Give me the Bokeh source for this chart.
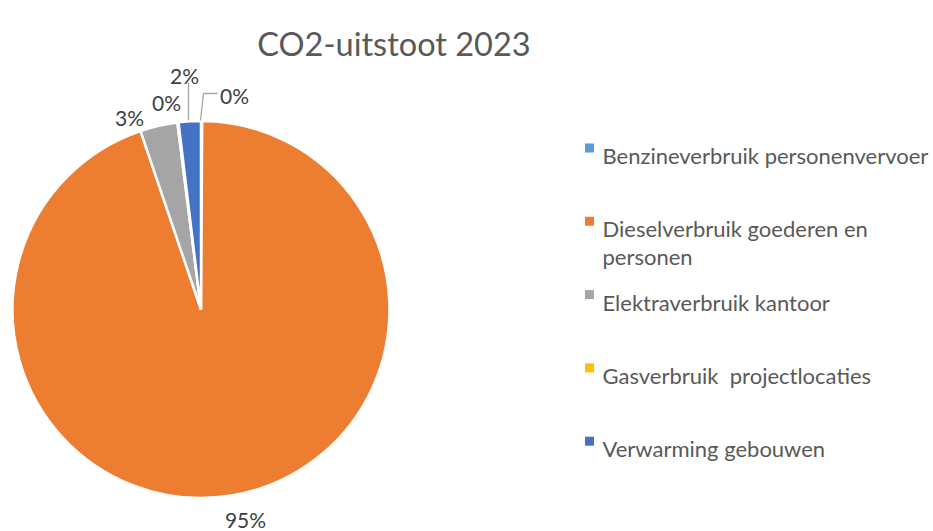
import math
from bokeh.plotting import figure
from bokeh.models import Range1d
from bokeh.core.properties import value
from bokeh.embed import file_html
from bokeh.resources import INLINE

# ---- data ----
categories = [
    "Benzineverbruik personenvervoer",
    "Dieselverbruik goederen en\npersonen",
    "Elektraverbruik kantoor",
    "Gasverbruik\u00a0 projectlocaties",
    "Verwarming gebouwen",
]
shares = [0.1, 94.7, 3.2, 0.1, 1.9]  # percent
colors = ["#5B9BD5", "#ED7D31", "#A5A5A5", "#FFC000", "#4472C4"]
title_text = "CO2-uitstoot 2023"

# ---- layout (window pixel coords) ----
W, H = 933, 531
def wx(X):
    return X
def wy(Y):
    return H - Y

FONT = "Lato"
cx, cy, R = wx(200.5), wy(309), 188.5
# label anchor positions (window coords: center x, baseline y)
label_pos = [(234, 95), (245, 519), (129, 117), (166, 102), (184, 75)]

p = figure(width=W, height=H, x_range=Range1d(0, W), y_range=Range1d(0, H),
           output_backend="svg", toolbar_location=None, min_border=0,
           x_axis_type=None, y_axis_type=None)
p.grid.visible = False
p.outline_line_color = None
p.background_fill_color = "white"
p.border_fill_color = "white"

# wedges, Excel-style: start at 12 o'clock, clockwise
total = sum(shares)
starts, ends = [], []
acc = 0.0
for v in shares:
    a0 = math.pi / 2 - 2 * math.pi * acc / total
    acc += v
    a1 = math.pi / 2 - 2 * math.pi * acc / total
    starts.append(a0)
    ends.append(a1)
p.wedge(x=[cx] * len(shares), y=[cy] * len(shares), radius=R,
        start_angle=starts, end_angle=ends, direction="clock",
        fill_color=colors, line_color="white", line_width=2.5)

# leader lines
p.line(x=[wx(188), wx(188)], y=[wy(120), wy(82)], line_color="#A6A6A6", line_width=1.3)
p.line(x=[wx(200), wx(203), wx(217)], y=[wy(120), wy(93), wy(93)], line_color="#A6A6A6", line_width=1.3)

# data labels
lab_txt = [f"{round(v)}%" for v in shares]
p.text(x=[wx(a) for a, b in label_pos], y=[wy(b) for a, b in label_pos], text=lab_txt,
       text_font=value(FONT), text_font_size=value("21px"), text_color="#404040",
       text_align="center", text_baseline="alphabetic")

# title
p.text(x=[wx(393.5)], y=[wy(43)], text=[title_text], text_font=value(FONT),
       text_font_size=value("32.5px"), text_color="#595959",
       text_align="center", text_baseline="alphabetic")

# legend (manual)
base, pitch = 155, 73.3
mx, my, lx, ly, lt = [], [], [], [], []
for i, (c, name) in enumerate(zip(colors, categories)):
    b = base + i * pitch
    mx.append(wx(589)); my.append(wy(b - 7.5))
    for j, line in enumerate(name.split("\n")):
        lx.append(wx(602)); ly.append(wy(b + j * 28)); lt.append(line)
p.scatter(x=mx, y=my, marker="square", size=9, fill_color=colors, line_color=None)
p.text(x=lx, y=ly, text=lt, text_font=value(FONT), text_font_size=value("22px"),
       text_color="#595959", text_align="left", text_baseline="alphabetic")

open("out.html", "w").write(file_html(p, INLINE))
